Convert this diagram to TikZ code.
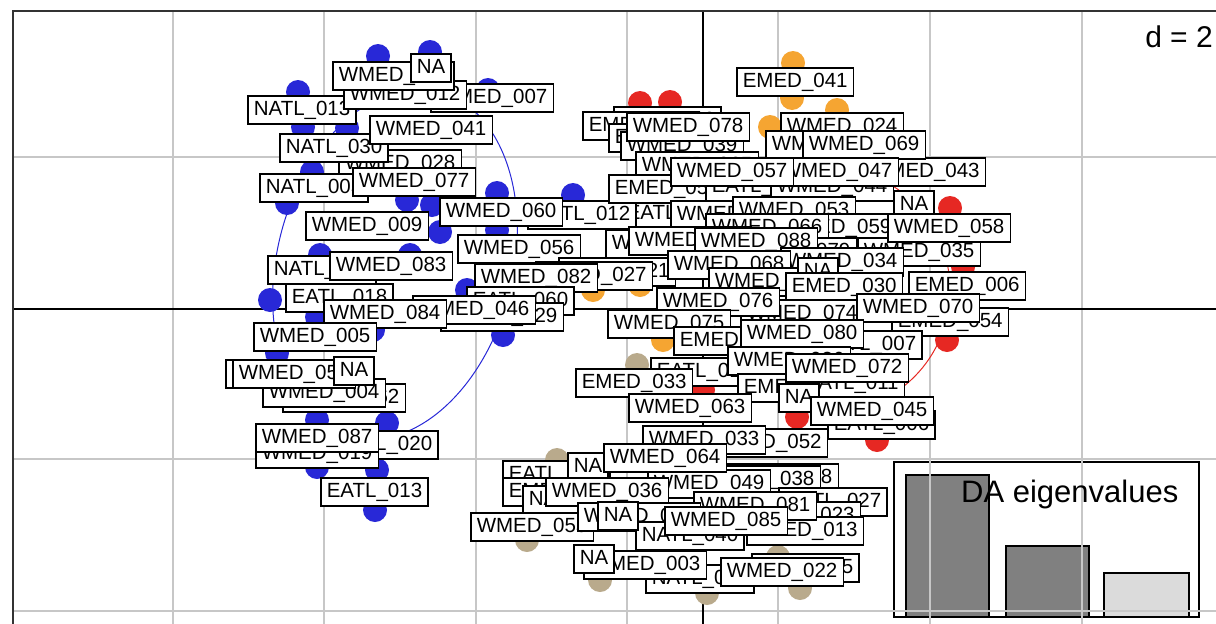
\documentclass[tikz,border=0pt]{standalone}
\usepackage{fontspec}
\newfontfamily\lblfont{Liberation Sans}
\usepackage{tikz}

\definecolor{ptblue}{RGB}{40,40,215}
\definecolor{ptred}{RGB}{230,40,35}
\definecolor{ptorange}{RGB}{245,165,50}
\definecolor{pttan}{RGB}{185,170,140}

\begin{document}
\begin{tikzpicture}[x = 1pt, y = -1pt,
    lab/.style = {draw, fill = white, anchor = west, line width = 1.6pt,
                  inner xsep = 6pt, inner ysep = 4.5pt, text height = 15pt, text depth = 4.5pt,
                  font = \lblfont\fontsize{20.5}{24}\selectfont},
    gridline/.style = {draw = black!22, line width = 1.5pt},
    bar/.style = {draw, line width = 1.3pt}]
    \useasboundingbox (0, 0) rectangle (1216, 624);
    \clip (0, 0) rectangle (1216, 624);

    % eigenvalue inset
    \draw [line width = 1.5pt] (894, 462) rectangle (1199, 617);
    \draw [bar, fill = black!50] (906, 617) rectangle (989, 475);
    \draw [bar, fill = black!50] (1006, 617) rectangle (1089, 546);
    \draw [bar, fill = black!14] (1104, 617) rectangle (1189, 573);

    % grid, axes and frame
    \foreach \gx in {173, 324, 476, 627, 778, 930, 1082}
        \draw [gridline] (\gx, 11) -- (\gx, 624);
    \foreach \gy in {157, 459, 611}
        \draw [gridline] (13, \gy) -- (1216, \gy);
    \draw [line width = 1.5pt] (703, 11) -- (703, 624);
    \draw [line width = 1.5pt] (13, 309) -- (1216, 309);
    \draw [line width = 2pt, black!80] (13, 624) -- (13, 11) -- (1216, 11);

    % ellipses
    \draw [ptblue, line width = 1pt, rotate around = {-14:(395, 264)}] (395, 264) ellipse [x radius = 118, y radius = 178];
    \draw [ptred, line width = 1pt] (830, 290) ellipse [x radius = 120, y radius = 122];

    % points
    \foreach \px/\py in {430/52, 378/56, 488/90, 298/92, 303/127, 347/128, 312/172, 407/200, 432/205,
                         287/203, 497/193, 497/230, 573/195, 320/255, 410/255, 467/290, 317/317,
                         373/330, 503/335, 277/353, 350/380, 317/420, 387/423, 290/440, 317/467,
                         377/470, 375/510, 270/300, 440/232}
        \fill [ptblue] (\px, \py) circle [radius = 12];
    \foreach \px/\py in {640/103, 670/102, 950/208, 963/267, 947/340, 877/440, 797/417, 703/390}
        \fill [ptred] (\px, \py) circle [radius = 12];
    \foreach \px/\py in {793/63, 792/98, 837/110, 770/127, 593/290, 663/340, 640/285}
        \fill [ptorange] (\px, \py) circle [radius = 12];
    \foreach \px/\py in {637/365, 557/460, 527/540, 778/557, 707/593, 600/580, 800/588}
        \fill [pttan] (\px, \py) circle [radius = 12];

    % blue group
    \node [lab] (natl013) at (247, 110) {NATL\_013};
    \node [lab] (wmed007) at (430, 98) {WMED\_007};
    \node [lab] (wmed012) at (343, 95) {WMED\_012};
    \node [lab] (wmed011) at (332, 76) {WMED\_011};
    \node [lab] (na1) at (410, 68) {NA};
    \node [lab] (wmed028) at (338, 164) {WMED\_028};
    \node [lab] (natl030) at (279, 148) {NATL\_030};
    \node [lab] (wmed041) at (369, 130) {WMED\_041};
    \node [lab] (natl005) at (259, 188) {NATL\_005};
    \node [lab] (wmed077) at (352, 182) {WMED\_077};
    \node [lab] (wmed009) at (305, 226) {WMED\_009};
    \node [lab] (eatl064) at (620, 214) {EATL\_064};
    \node [lab] (natl012) at (527, 215) {NATL\_012};
    \node [lab] (wmed060) at (439, 212) {WMED\_060};
    \node [lab] (wmed056) at (457, 249) {WMED\_056};
    \node [lab] (natl019) at (267, 270) {NATL\_019};
    \node [lab] (wmed083) at (329, 266) {WMED\_083};
    \node [lab] (eatl018) at (285, 298) {EATL\_018};
    \node [lab] (emed021) at (558, 272) {EMED\_021};
    \node [lab] (emed027) at (535, 276) {EMED\_027};
    \node [lab] (wmed082) at (474, 278) {WMED\_082};
    \node [lab] (eatl060) at (466, 301) {EATL\_060};
    \node [lab] (wmed029) at (440, 317) {WMED\_029};
    \node [lab] (wmed046) at (412, 310) {WMED\_046};
    \node [lab] (wmed084) at (323, 314) {WMED\_084};
    \node [lab] (wmed005) at (253, 337) {WMED\_005};
    \node [lab] (wmed062) at (282, 398) {WMED\_062};
    \node [lab] (wmed004) at (262, 393) {WMED\_004};
    \node [lab] (wmed050) at (225, 374) {WMED\_050};
    \node [lab] (wmed052) at (232, 374) {WMED\_052};
    \node [lab] (na2) at (333, 371) {NA};
    \node [lab] (eatl020) at (330, 445) {EATL\_020};
    \node [lab] (wmed019) at (255, 454) {WMED\_019};
    \node [lab] (wmed087) at (255, 438) {WMED\_087};
    \node [lab] (eatl013) at (320, 492) {EATL\_013};

    % red and orange group
    \node [lab] (emed041) at (736, 82) {EMED\_041};
    \node [lab] (eatl040) at (613, 121) {EATL\_040};
    \node [lab] (emed050) at (582, 126) {EMED\_050};
    \node [lab] (emed062) at (608, 138) {EMED\_062};
    \node [lab] (wmed039) at (620, 146) {WMED\_039};
    \node [lab] (wmed078) at (626, 127) {WMED\_078};
    \node [lab] (wmed065) at (635, 166) {WMED\_065};
    \node [lab] (wmed024) at (780, 127) {WMED\_024};
    \node [lab] (wmed026) at (765, 145) {WMED\_026};
    \node [lab] (emed043) at (868, 172) {EMED\_043};
    \node [lab] (wmed069) at (802, 145) {WMED\_069};
    \node [lab] (emed057) at (608, 189) {EMED\_057};
    \node [lab] (eatl045) at (705, 187) {EATL\_045};
    \node [lab] (wmed044) at (770, 187) {WMED\_044};
    \node [lab] (wmed047) at (775, 172) {WMED\_047};
    \node [lab] (wmed057) at (670, 172) {WMED\_057};
    \node [lab] (wmed067) at (670, 215) {WMED\_067};
    \node [lab] (wmed053) at (732, 211) {WMED\_053};
    \node [lab] (wmed059) at (774, 228) {WMED\_059};
    \node [lab] (wmed066) at (705, 228) {WMED\_066};
    \node [lab] (na3) at (893, 205) {NA};
    \node [lab] (wmed035) at (857, 252) {WMED\_035};
    \node [lab] (wmed058) at (887, 228) {WMED\_058};
    \node [lab] (wmed071) at (605, 244) {WMED\_071};
    \node [lab] (wmed073) at (628, 241) {WMED\_073};
    \node [lab] (wmed079) at (733, 252) {WMED\_079};
    \node [lab] (wmed088) at (694, 242) {WMED\_088};
    \node [lab] (wmed034) at (780, 262) {WMED\_034};
    \node [lab] (wmed068) at (667, 265) {WMED\_068};
    \node [lab] (wmed089) at (708, 282) {WMED\_089};
    \node [lab] (na4) at (797, 272) {NA};
    \node [lab] (emed030) at (785, 287) {EMED\_030};
    \node [lab] (emed006) at (908, 286) {EMED\_006};
    \node [lab] (emed054) at (891, 322) {EMED\_054};
    \node [lab] (wmed074) at (740, 314) {WMED\_074};
    \node [lab] (wmed076) at (656, 302) {WMED\_076};
    \node [lab] (wmed070) at (856, 308) {WMED\_070};
    \node [lab] (wmed075) at (607, 324) {WMED\_075};
    \node [lab] (emed031) at (673, 341) {EMED\_031};
    \node [lab] (eatl007) at (814, 345) {EATL\_007};
    \node [lab] (wmed080) at (740, 334) {WMED\_080};
    \node [lab] (eatl010) at (650, 372) {EATL\_010};
    \node [lab] (wmed086) at (727, 361) {WMED\_086};
    \node [lab] (emed032) at (737, 388) {EMED\_032};
    \node [lab] (eatl011) at (798, 384) {EATL\_011};
    \node [lab] (wmed072) at (785, 368) {WMED\_072};
    \node [lab] (emed033) at (575, 383) {EMED\_033};
    \node [lab] (wmed063) at (628, 408) {WMED\_063};
    \node [lab] (eatl006) at (827, 425) {EATL\_006};
    \node [lab] (na5) at (778, 398) {NA};
    \node [lab] (wmed045) at (810, 411) {WMED\_045};

    % tan group
    \node [lab] (emed052) at (710, 443) {EMED\_052};
    \node [lab] (wmed033) at (642, 440) {WMED\_033};
    \node [lab] (wmed048) at (715, 478) {WMED\_048};
    \node [lab] (wmed038) at (697, 480) {WMED\_038};
    \node [lab] (natl027) at (778, 502) {NATL\_027};
    \node [lab] (emed023) at (743, 516) {EMED\_023};
    \node [lab] (emed013) at (746, 531) {EMED\_013};
    \node [lab] (eatl030) at (502, 475) {EATL\_030};
    \node [lab] (emed037) at (502, 492) {EMED\_037};
    \node [lab] (natl036) at (522, 500) {NATL\_036};
    \node [lab] (na6) at (567, 467) {NA};
    \node [lab] (wmed049) at (647, 484) {WMED\_049};
    \node [lab] (wmed064) at (603, 458) {WMED\_064};
    \node [lab] (wmed036) at (545, 492) {WMED\_036};
    \node [lab] (wmed081) at (693, 506) {WMED\_081};
    \node [lab] (wmed055) at (470, 527) {WMED\_055};
    \node [lab] (wmed030) at (577, 517) {WMED\_030};
    \node [lab] (natl040) at (635, 536) {NATL\_040};
    \node [lab] (na7) at (597, 516) {NA};
    \node [lab] (wmed085) at (664, 521) {WMED\_085};
    \node [lab] (eatl015) at (751, 568) {EATL\_015};
    \node [lab] (natl035) at (645, 579) {NATL\_035};
    \node [lab] (wmed003) at (583, 565) {WMED\_003};
    \node [lab] (na8) at (573, 559) {NA};
    \node [lab] (wmed022) at (720, 572) {WMED\_022};

    % titles
    \node [anchor = base west, inner sep = 0pt, font = \lblfont\fontsize{31}{36}\selectfont] (eigtitle) at (961, 502) {DA eigenvalues};
    \node [anchor = base east, inner sep = 0pt, font = \lblfont\fontsize{30}{36}\selectfont] (dscale) at (1213, 47) {d = 2};
\end{tikzpicture}
\end{document}
